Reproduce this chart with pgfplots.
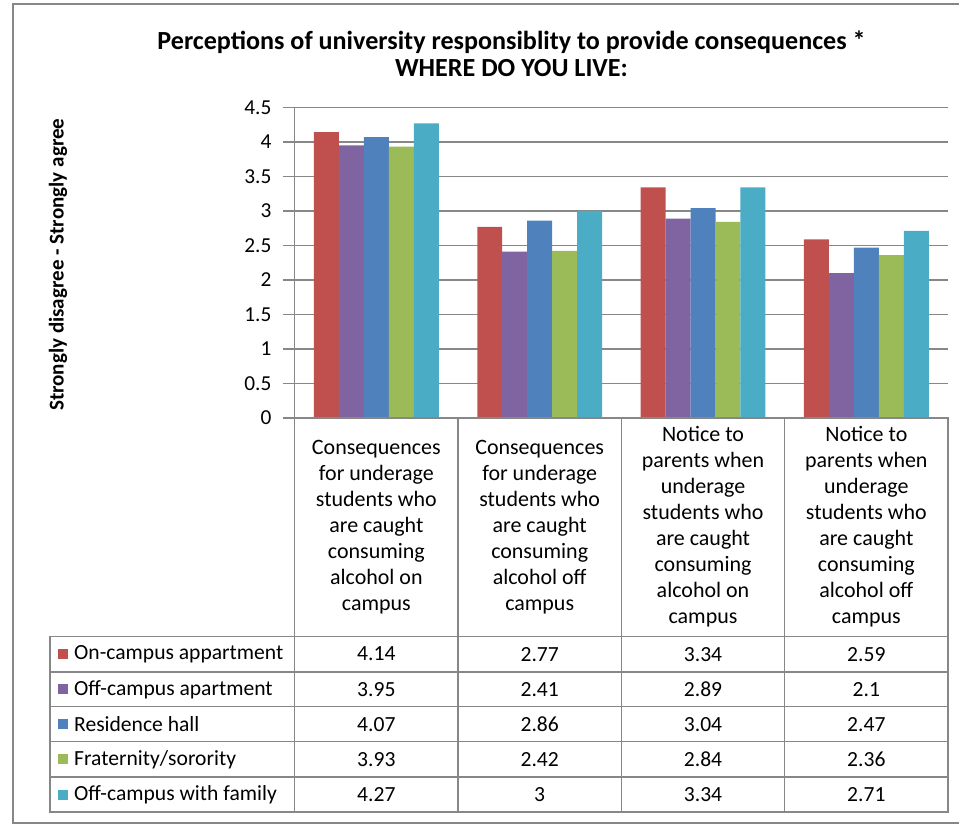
\documentclass[border=0pt]{standalone}
\usepackage{fontspec}
\setmainfont{Carlito}
\usepackage{pgfplots}
\usepackage{pgfplotstable}
\pgfplotsset{compat=1.18}
\definecolor{c1}{HTML}{C0504D}
\definecolor{c2}{HTML}{8064A2}
\definecolor{c3}{HTML}{4F81BD}
\definecolor{c4}{HTML}{9BBB59}
\definecolor{c5}{HTML}{4BACC6}
\definecolor{gridc}{HTML}{878787}
\pgfplotstableread{
x a b c d e
0 4.14 3.95 4.07 3.93 4.27
1 2.77 2.41 2.86 2.42 3
2 3.34 2.89 3.04 2.84 3.34
3 2.59 2.1 2.47 2.36 2.71
}\data
\begin{document}
\begin{tikzpicture}
\begin{scope}[x=0.75pt,y=-0.75pt]
\useasboundingbox (0,0) rectangle (960,827);
\coordinate (SW) at (295,418.5);
\end{scope}
\begin{axis}[at={(SW)}, anchor=south west, scale only axis,
  width=490.5pt, height=233.25pt,
  xmin=-0.5, xmax=3.5, ymin=0, ymax=4.5,
  ytick={0,0.5,1,1.5,2,2.5,3,3.5,4,4.5},
  yticklabels={0,0.5,1,1.5,2,2.5,3,3.5,4,4.5},
  xtick=\empty,
  axis line style={draw=none},
  ymajorgrids, grid style={line width=1.1pt, color=gridc},
  tick style={gridc, line width=1.1pt},
  tick align=outside, ytick pos=left, major tick length=9pt,
  yticklabel style={font=\fontsize{16}{18}\selectfont, text=black, xshift=-5pt},
  ybar=0pt, bar width=18.75pt, clip=false]
\addplot[fill=c1, draw=none] table[x=x,y=a]{\data};
\addplot[fill=c2, draw=none] table[x=x,y=b]{\data};
\addplot[fill=c3, draw=none] table[x=x,y=c]{\data};
\addplot[fill=c4, draw=none] table[x=x,y=d]{\data};
\addplot[fill=c5, draw=none] table[x=x,y=e]{\data};
\end{axis}
\begin{scope}[x=0.75pt,y=-0.75pt]
% outer border
\draw[gridc, line width=1.5pt] (960,4) -- (13,4) -- (13,824) -- (960,824);
% title
\node[font=\bfseries\fontsize{19.6}{20.25}\selectfont, align=center] at (512,54)
  {Perceptions of university responsiblity to provide consequences *\\WHERE DO YOU LIVE:};
% y label
\node[font=\bfseries\fontsize{15.8}{18}\selectfont, rotate=90] at (58,265) {Strongly disagree - Strongly agree};
% table lines
\begin{scope}[gridc, line width=1.1pt]
\draw (295,107.5) -- (295,813);
\draw (295,418.5) -- (949,418.5) -- (949,813) -- (50,813) -- (50,637) -- (949,637);
\foreach \y in {672.5,707.5,742.5,778} \draw (50,\y) -- (949,\y);
\foreach \x in {458.5,622,785.5} \draw (\x,418.5) -- (\x,813);
\end{scope}
% header text
\begin{scope}[every node/.style={font=\fontsize{16.5}{19.5}\selectfont, align=center}]
\node at (376.75,527.5) {Consequences\\for underage\\students who\\are caught\\consuming\\alcohol on\\campus};
\node at (540.25,527.5) {Consequences\\for underage\\students who\\are caught\\consuming\\alcohol off\\campus};
\node at (703.75,527.5) {Notice to\\parents when\\underage\\students who\\are caught\\consuming\\alcohol on\\campus};
\node at (867.25,527.5) {Notice to\\parents when\\underage\\students who\\are caught\\consuming\\alcohol off\\campus};
\end{scope}
% legend column and values
\begin{scope}[every node/.style={font=\fontsize{16.2}{18}\selectfont}]
\foreach \yc/\col/\lab/\va/\vb/\vc/\vd in {
  654.8/c1/On-campus appartment/4.14/2.77/3.34/2.59,
  690/c2/Off-campus apartment/3.95/2.41/2.89/2.1,
  725/c3/Residence hall/4.07/2.86/3.04/2.47,
  760.2/c4/Fraternity\slash sorority/3.93/2.42/2.84/2.36,
  795.5/c5/Off-campus with family/4.27/3/3.34/2.71}{
  \fill[\col] (58,\yc-5) rectangle (68,\yc+5);
  \node[anchor=west, inner sep=0pt] at (74,\yc) {\lab};
  \node at (376.75,\yc) {\va};
  \node at (540.25,\yc) {\vb};
  \node at (703.75,\yc) {\vc};
  \node at (867.25,\yc) {\vd};
}
\end{scope}
\end{scope}
\end{tikzpicture}
\end{document}
